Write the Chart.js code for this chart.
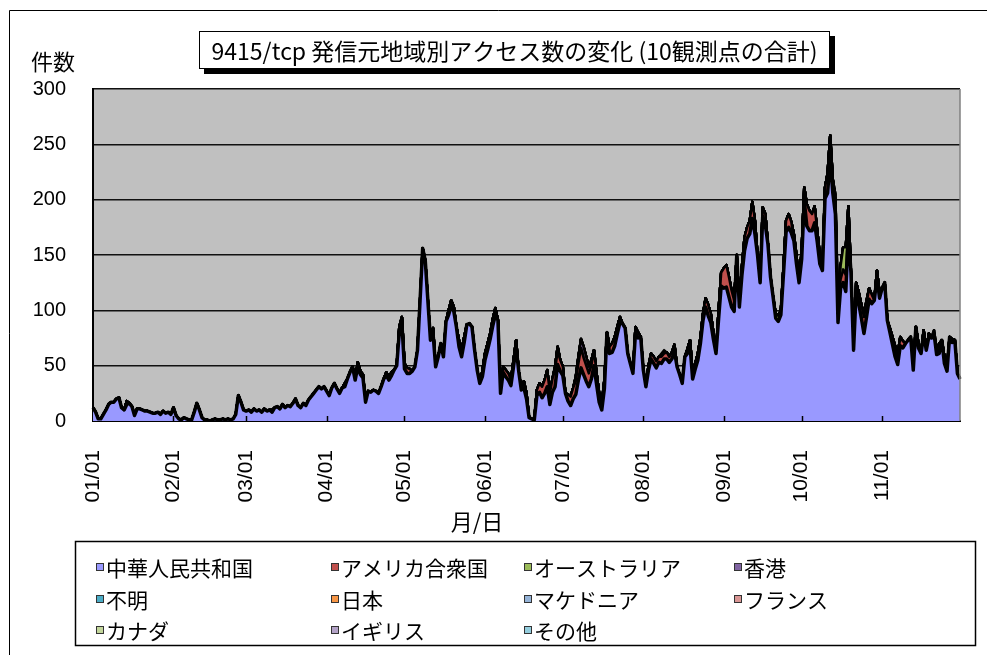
<!DOCTYPE html>
<html>
<head>
<meta charset="utf-8">
<script src="https://cdn.jsdelivr.net/npm/chart.js@4.4.1/dist/chart.umd.min.js"></script>
<style>
  html, body { margin: 0; padding: 0; background: #fff; }
  canvas { display: block; }
</style>
</head>
<body>
<canvas id="chart" width="987" height="655"></canvas>
<script>
// days per month shown on the axis (Jan..Nov, plus the closing 12/01 point)
const monthDays = [31, 28, 31, 30, 31, 30, 31, 31, 30, 31, 30, 1]

// tick labels on the y axis
const yTicks = [0, 50, 100, 150, 200, 250, 300]

// 中華人民共和国, one value per day from 01/01
const china = [
  12, 8, 2, 2, 6, 10, 15, 17, 17, 20,
  21, 12, 10, 15, 16, 13, 5, 11, 11, 10,
  9, 9, 8, 7, 7, 8, 6, 9, 7, 8,
  6, 12, 5, 2, 1, 3, 2, 1, 1, 8,
  16, 10, 3, 1, 1, 0, 1, 2, 1, 1,
  2, 1, 2, 1, 2, 6, 23, 17, 10, 9,
  10, 8, 11, 9, 10, 8, 11, 9, 10, 8,
  12, 13, 11, 15, 12, 14, 13, 16, 20, 14,
  12, 16, 14, 19, 22, 25, 28, 31, 29, 31,
  27, 23, 30, 34, 29, 25, 30, 31, 38, 44,
  49, 37, 49, 42, 39, 17, 27, 26, 28, 27,
  25, 31, 38, 41, 37, 41, 46, 50, 80, 88,
  47, 43, 43, 45, 49, 64, 109, 156, 145, 109,
  73, 79, 49, 58, 70, 58, 90, 96, 104, 99,
  85, 67, 58, 71, 87, 88, 85, 64, 46, 34,
  40, 55, 64, 74, 86, 96, 91, 25, 44, 40,
  37, 32, 49, 67, 45, 28, 30, 20, 3, 2,
  1, 23, 26, 21, 25, 31, 15, 26, 31, 51,
  45, 41, 25, 18, 14, 20, 24, 37, 48, 42,
  36, 31, 38, 50, 33, 17, 10, 29, 80, 61,
  62, 68, 79, 89, 88, 84, 61, 52, 43, 80,
  75, 76, 46, 31, 46, 56, 52, 48, 53, 52,
  56, 56, 53, 56, 63, 49, 42, 34, 58, 61,
  68, 38, 47, 55, 70, 91, 103, 95, 89, 74,
  61, 92, 122, 120, 121, 112, 103, 99, 150, 103,
  132, 154, 165, 169, 183, 169, 150, 125, 185, 177,
  160, 130, 112, 93, 90, 96, 133, 171, 175, 170,
  163, 142, 125, 146, 199, 176, 172, 172, 179, 162,
  142, 136, 201, 206, 238, 206, 187, 89, 120, 125,
  117, 169, 134, 64, 117, 106, 93, 79, 94, 110,
  106, 109, 130, 111, 120, 125, 91, 80, 69, 58,
  51, 68, 66, 70, 73, 76, 46, 85, 66, 61,
  79, 64, 76, 75, 79, 60, 61, 73, 52, 45,
  76, 71, 73, 43, 38
]

// the smaller origins: [day index, count], every other day is 0
const usa = [
  [13, 3], [69, 2], [97, 3], [102, 4], [103, 3], [104, 3], [113, 3], [114, 3], [115, 3],
  [118, 5], [119, 6], [120, 5], [121, 5], [122, 4], [131, 5], [137, 4], [138, 5], [139, 4],
  [141, 6], [142, 6], [143, 5], [150, 5], [151, 6], [152, 6], [153, 5], [154, 6], [155, 6],
  [158, 5], [159, 6], [160, 6], [161, 5], [162, 6], [163, 6], [166, 6], [167, 5],
  [171, 5], [172, 8], [173, 10], [174, 12], [175, 15], [176, 10], [177, 12], [178, 15],
  [179, 12], [180, 10], [181, 8], [183, 6], [184, 8], [185, 10], [186, 12], [187, 15],
  [188, 18], [189, 15], [190, 14], [191, 12], [192, 12], [193, 14], [194, 10], [195, 8],
  [196, 6], [197, 8], [199, 6], [200, 8], [201, 8], [202, 6], [203, 5], [209, 5], [210, 5],
  [214, 4], [215, 5], [216, 6], [217, 6], [218, 5], [219, 6], [220, 5], [221, 6], [222, 5],
  [223, 6], [224, 6], [229, 4], [230, 5], [231, 5], [232, 5], [233, 6], [234, 5], [235, 6],
  [236, 8], [237, 10], [238, 8], [239, 6], [241, 8], [242, 12], [243, 18], [244, 20],
  [245, 18], [246, 15], [247, 10], [250, 8], [251, 12], [252, 10], [253, 12], [254, 15],
  [255, 12], [258, 8], [259, 10], [266, 6], [267, 10], [268, 12], [269, 10], [273, 8],
  [274, 12], [275, 20], [276, 18], [277, 15], [278, 15], [279, 10], [280, 8], [282, 10],
  [283, 18], [284, 20], [285, 12], [286, 10], [288, 8], [289, 12], [290, 15], [291, 10],
  [294, 8], [295, 10], [296, 12], [297, 15], [298, 12], [299, 10], [300, 8], [302, 6],
  [303, 5], [309, 4], [310, 6], [311, 8], [312, 6], [316, 3], [318, 4], [320, 3], [322, 3],
  [326, 4], [328, 6], [329, 4], [331, 3]
]
const australia = [[178, 3], [179, 4], [263, 4], [264, 5], [265, 4], [270, 6], [271, 8],
  [287, 5], [288, 12], [289, 20], [290, 25], [291, 15], [325, 4], [326, 5]]
const hongkong = [[186, 4], [187, 6], [188, 8], [189, 10], [190, 8], [191, 6], [192, 5]]
const unknown = [[307, 4], [308, 7], [309, 6], [310, 4]]
const japan = [[297, 3], [298, 3]]
const macedonia = []
const france = []
const canada = [[286, 8], [287, 6], [324, 3]]
const uk = []
const other = [[219, 3], [220, 3]]

const seriesNames = ['中華人民共和国', 'アメリカ合衆国', 'オーストラリア', '香港', '不明', '日本',
  'マケドニア', 'フランス', 'カナダ', 'イギリス', 'その他']
const seriesColors = ['#9999ff', '#c0504d', '#9bbb59', '#8064a2', '#4bacc6', '#f79646',
  '#95b3d7', '#d99694', '#c3d69b', '#b3a2c7', '#93cddd']

const titleText = '9415/tcp 発信元地域別アクセス数の変化 (10観測点の合計)'
const CJK = '"Noto Sans CJK JP", sans-serif'

// build the date labels 01/01 .. 12/01
const labels = []
const monthStarts = []
monthDays.forEach(function(n, m) {
  for (let d = 1; d <= n; d++) {
    if (d == 1) monthStarts.push(labels.length)
    labels.push(String(m + 1).padStart(2, '0') + '/' + String(d).padStart(2, '0'))
  }
})

function spread(pairs) {
  const arr = labels.map(() => 0)
  pairs.forEach(function(p) { arr[p[0]] = p[1] })
  return arr
}

const seriesData = [china, spread(usa), spread(australia), spread(hongkong), spread(unknown),
  spread(japan), spread(macedonia), spread(france), spread(canada), spread(uk), spread(other)]

const datasets = seriesNames.map(function(name, i) {
  return {
    label: name,
    data: seriesData[i],
    backgroundColor: seriesColors[i],
    borderColor: '#000',
    borderWidth: i == 0 ? 3.5 : 2.5,
    pointRadius: 0,
    tension: 0,
    fill: i == 0 ? 'origin' : '-1'
  }
})

// background, frames, title box, axis captions, month ticks and legend
const decor = {
  id: 'decor',
  beforeDraw(chart) {
    const ctx = chart.ctx
    const a = chart.chartArea
    ctx.save()
    ctx.fillStyle = '#fff'
    ctx.fillRect(0, 0, chart.width, chart.height)
    ctx.strokeStyle = '#000'
    ctx.lineWidth = 1
    ctx.beginPath()
    ctx.moveTo(9.5, 700)
    ctx.lineTo(9.5, 10.5)
    ctx.lineTo(1000, 10.5)
    ctx.stroke()
    ctx.fillStyle = '#c0c0c0'
    ctx.fillRect(a.left, a.top, a.right - a.left, a.bottom - a.top)
    ctx.restore()
  },
  afterDatasetsDraw(chart) {
    const ctx = chart.ctx
    const a = chart.chartArea
    const x = chart.scales.x
    ctx.save()
    ctx.strokeStyle = '#808080'
    ctx.lineWidth = 1.5
    ctx.beginPath()
    ctx.moveTo(a.right, a.top)
    ctx.lineTo(a.right, a.bottom)
    ctx.stroke()
    ctx.strokeStyle = '#000'
    ctx.lineWidth = 1.5
    monthStarts.forEach(function(i) {
      if (i == 0 || i >= labels.length - 1) return
      const px = Math.round(x.getPixelForValue(i)) + 0.5
      ctx.beginPath()
      ctx.moveTo(px, a.bottom)
      ctx.lineTo(px, a.bottom - 5)
      ctx.stroke()
    })
    ctx.restore()
  },
  afterDraw(chart) {
    const ctx = chart.ctx
    ctx.save()
    // title box with shadow
    const bx = 199, by = 31, bw = 631, bh = 38
    ctx.fillStyle = '#000'
    ctx.fillRect(bx + 5, by + 5, bw, bh)
    ctx.fillStyle = '#fff'
    ctx.fillRect(bx, by, bw, bh)
    ctx.strokeStyle = '#000'
    ctx.lineWidth = 1
    ctx.strokeRect(bx + 0.5, by + 0.5, bw - 1, bh - 1)
    ctx.fillStyle = '#000'
    ctx.font = '23px ' + CJK
    ctx.textBaseline = 'middle'
    ctx.textAlign = 'center'
    ctx.fillText(titleText, bx + bw / 2, by + bh / 2 + 1)

    // axis captions
    ctx.font = '22px ' + CJK
    ctx.textAlign = 'left'
    ctx.fillText('件数', 31, 62)
    ctx.textAlign = 'center'
    ctx.fillText('月/日', 477, 522)

    // legend
    const lx = 75, ly = 541, lw = 900, lh = 104
    ctx.strokeStyle = '#000'
    ctx.lineWidth = 1.5
    ctx.strokeRect(lx + 0.5, ly + 0.5, lw, lh)
    const cols = [96, 331, 524, 734]
    const rows = [568, 600, 631]
    ctx.font = '21px ' + CJK
    ctx.textAlign = 'left'
    chart.data.datasets.forEach(function(ds, i) {
      const cx = cols[i % 4]
      const cy = rows[Math.floor(i / 4)]
      ctx.fillStyle = ds.backgroundColor
      ctx.fillRect(cx, cy - 5, 8, 8)
      ctx.strokeStyle = '#333'
      ctx.lineWidth = 1
      ctx.strokeRect(cx + 0.5, cy - 4.5, 7, 7)
      ctx.fillStyle = '#000'
      ctx.fillText(ds.label, cx + 10, cy)
    })
    ctx.restore()
  }
}

new Chart(document.getElementById('chart'), {
  type: 'line',
  data: { labels: labels, datasets: datasets },
  options: {
    responsive: false,
    animation: false,
    devicePixelRatio: 1,
    events: [],
    layout: { padding: { top: 89, right: 27, left: 0, bottom: 0 } },
    plugins: {
      legend: { display: false },
      title: { display: false },
      tooltip: { enabled: false }
    },
    elements: { line: { borderJoinStyle: 'round' } },
    scales: {
      x: {
        offset: false,
        afterFit: function(scale) {
          scale.height = 234
          scale.paddingLeft = 0
          scale.paddingRight = 0
        },
        grid: { display: false, drawTicks: false },
        border: { display: true, color: '#000', width: 2 },
        ticks: {
          autoSkip: false,
          minRotation: 90,
          maxRotation: 90,
          padding: 29,
          color: '#000',
          font: { family: '"Liberation Sans", Arial, sans-serif', size: 21 },
          callback: function(value, index) {
            return (monthStarts.includes(index) && index < labels.length - 1) ? labels[index] : ''
          }
        }
      },
      y: {
        stacked: true,
        min: 0,
        max: 300,
        afterFit: function(scale) { scale.width = 93 },
        afterBuildTicks: function(scale) { scale.ticks = yTicks.map(v => ({ value: v })) },
        grid: { color: '#111', lineWidth: 1.5, drawTicks: false },
        border: { display: true, color: '#000', width: 2 },
        ticks: {
          padding: 27,
          color: '#000',
          font: { family: '"Liberation Sans", Arial, sans-serif', size: 20 }
        }
      }
    }
  },
  plugins: [decor]
})
</script>
</body>
</html>
